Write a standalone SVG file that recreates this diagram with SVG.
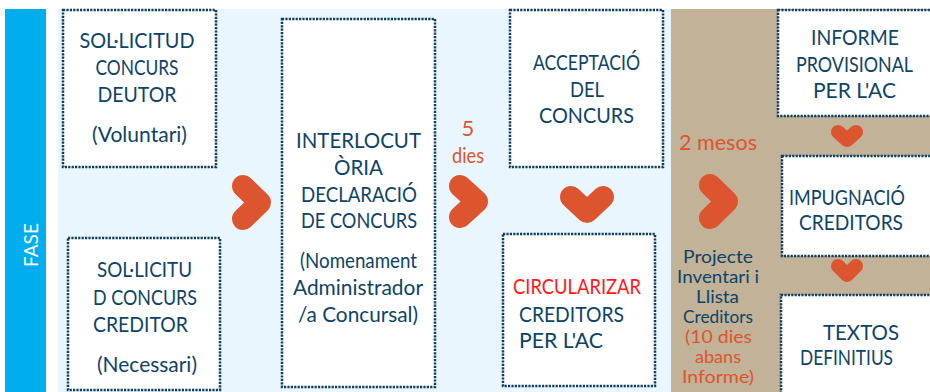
<svg xmlns="http://www.w3.org/2000/svg" width="930" height="392" viewBox="0 0 930 392">
<style>
.box{fill:#ffffff;stroke:#0f3d5c;stroke-width:2.5;stroke-dasharray:2.2 1.2}
.t{font-family:Lato,"Open Sans",sans-serif;font-size:21px;fill:#0d4466;text-anchor:middle}
.ts{font-family:Lato,"Open Sans",sans-serif;font-size:21px;fill:#0d4466}
.o{font-family:Lato,"Open Sans",sans-serif;fill:#dd552e;text-anchor:middle}
.p{font-family:Lato,"Open Sans",sans-serif;font-size:17px;fill:#0d4466;text-anchor:middle}
.chev{fill:none;stroke:#dd552e;stroke-width:22;stroke-linecap:round;stroke-linejoin:round}
.chevs{fill:none;stroke:#dd552e;stroke-width:14;stroke-linecap:round;stroke-linejoin:round}
</style>
<rect x="0" y="0" width="930" height="392" fill="#ffffff"/>
<rect x="5" y="9" width="41" height="383" fill="#00aeef"/>
<text x="30" y="245" transform="rotate(-90 30 245)" font-family="Lato,'Open Sans',sans-serif" font-size="19" fill="#ffffff" text-anchor="middle" dominant-baseline="central">FASE</text>
<rect x="58" y="9" width="613" height="383" fill="#eaf6fd"/>
<rect x="671" y="9" width="259" height="383" fill="#c1b298"/>

<g id="n1">
<rect class="box" x="63" y="10" width="153" height="157"/>
<text class="t" x="137" y="48" textLength="115" lengthAdjust="spacingAndGlyphs">SOL·LICITUD</text>
<text class="t" x="137" y="75" textLength="83" lengthAdjust="spacingAndGlyphs">CONCURS</text>
<text class="t" x="137" y="102" textLength="79" lengthAdjust="spacingAndGlyphs">DEUTOR</text>
<text class="t" x="139.5" y="142" textLength="95" lengthAdjust="spacingAndGlyphs">(Voluntari)</text>
</g>

<g id="n2">
<rect class="box" x="282" y="19" width="153" height="368"/>
<text class="t" x="358.5" y="148" textLength="125" lengthAdjust="spacingAndGlyphs">INTERLOCUT</text>
<text class="t" x="358.5" y="175" textLength="49" lengthAdjust="spacingAndGlyphs">ÒRIA</text>
<text class="t" x="359" y="202" textLength="116" lengthAdjust="spacingAndGlyphs">DECLARACIÓ</text>
<text class="t" x="359" y="228" textLength="116" lengthAdjust="spacingAndGlyphs">DE CONCURS</text>
<text class="t" x="358.5" y="268" textLength="117" lengthAdjust="spacingAndGlyphs">(Nomenament</text>
<text class="t" x="358" y="295" textLength="130" lengthAdjust="spacingAndGlyphs">Administrador</text>
<text class="t" x="358" y="322" textLength="120" lengthAdjust="spacingAndGlyphs">/a Concursal)</text>
</g>

<g id="n3">
<rect class="box" x="68" y="238" width="152" height="152"/>
<text class="ts" x="97" y="277" textLength="95" lengthAdjust="spacingAndGlyphs">SOL·LICITU</text>
<text class="ts" x="93" y="305" textLength="104" lengthAdjust="spacingAndGlyphs">D CONCURS</text>
<text class="ts" x="93" y="332" textLength="95" lengthAdjust="spacingAndGlyphs">CREDITOR</text>
<text class="ts" x="97" y="372" textLength="100" lengthAdjust="spacingAndGlyphs">(Necessari)</text>
</g>

<g id="n4">
<rect class="box" x="510" y="10" width="153" height="157"/>
<text class="t" x="586.5" y="70" textLength="107" lengthAdjust="spacingAndGlyphs">ACCEPTACIÓ</text>
<text class="t" x="587" y="97" textLength="34" lengthAdjust="spacingAndGlyphs">DEL</text>
<text class="t" x="586.5" y="123" textLength="95" lengthAdjust="spacingAndGlyphs">CONCURS</text>
</g>

<g id="n5">
<rect class="box" x="503" y="234" width="152" height="152"/>
<text class="ts" x="513" y="294" textLength="128" lengthAdjust="spacingAndGlyphs" style="fill:#ff1a1a">CIRCULARIZAR</text>
<text class="ts" x="519" y="322" textLength="105" lengthAdjust="spacingAndGlyphs">CREDITORS</text>
<text class="ts" x="519" y="348" textLength="84" lengthAdjust="spacingAndGlyphs">PER L'AC</text>
</g>

<g id="n6">
<rect class="box" x="778" y="10" width="160" height="106"/>
<text class="t" x="855" y="45" textLength="88" lengthAdjust="spacingAndGlyphs">INFORME</text>
<text class="t" x="854.5" y="72" textLength="117" lengthAdjust="spacingAndGlyphs">PROVISIONAL</text>
<text class="t" x="854.5" y="98" textLength="83" lengthAdjust="spacingAndGlyphs">PER L'AC</text>
</g>

<g id="n7">
<rect class="box" x="782" y="156" width="156" height="100"/>
<text class="t" x="847" y="205" textLength="116" lengthAdjust="spacingAndGlyphs">IMPUGNACIÓ</text>
<text class="t" x="851" y="230" textLength="104" lengthAdjust="spacingAndGlyphs">CREDITORS</text>
</g>

<g id="n8">
<rect class="box" x="781" y="295" width="157" height="110"/>
<text class="t" x="861" y="340" textLength="76" lengthAdjust="spacingAndGlyphs">TEXTOS</text>
<text class="t" x="846.5" y="365" textLength="93" lengthAdjust="spacingAndGlyphs">DEFINITIUS</text>
</g>

<g id="labels">
<text class="o" x="468" y="136" font-size="22">5</text>
<text class="o" x="468" y="163" font-size="21" textLength="32" lengthAdjust="spacingAndGlyphs">dies</text>
<text class="o" x="718" y="150" font-size="21" textLength="78" lengthAdjust="spacingAndGlyphs">2 mesos</text>
<text class="p" x="718" y="263" textLength="70" lengthAdjust="spacingAndGlyphs">Projecte</text>
<text class="p" x="718" y="283" textLength="82" lengthAdjust="spacingAndGlyphs">Inventari i</text>
<text class="p" x="717.5" y="303" textLength="43" lengthAdjust="spacingAndGlyphs">Llista</text>
<text class="p" x="718" y="323" textLength="70" lengthAdjust="spacingAndGlyphs">Creditors</text>
<text class="p" x="718.5" y="343" textLength="67" lengthAdjust="spacingAndGlyphs" style="fill:#dd552e">(10 dies</text>
<text class="p" x="718" y="363" textLength="46" lengthAdjust="spacingAndGlyphs" style="fill:#dd552e">abans</text>
<text class="p" x="718" y="383" textLength="72" lengthAdjust="spacingAndGlyphs" style="fill:#dd552e">Informe)</text>
</g>

<g id="connectors">
<polyline class="chev" points="243,186 260,202.5 243,219"/>
<polyline class="chev" points="460,186 477,201.5 460,217"/>
<polyline class="chev" points="571,197 587,212 603,197"/>
<polyline class="chev" points="710,185 727,201.5 710,218"/>
<polyline class="chevs" points="838,132 847,140 856,132"/>
<polyline class="chevs" points="838,266 847,275 856,266"/>
</g>
</svg>
